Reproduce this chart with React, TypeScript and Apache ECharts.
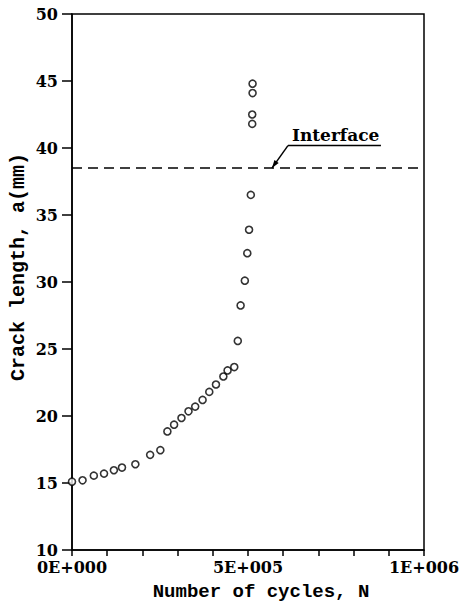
import React, { useEffect, useRef } from "react";
import * as echarts from "echarts";

// Fatigue crack growth: crack length versus number of load cycles
const cycles = [
  0, 30000, 62000, 91000, 119000, 142000, 180000, 222000, 251000, 271000,
  290000, 311000, 331000, 350000, 371000, 390000, 409000, 430000, 442000, 461000,
  471000, 479000, 491000, 498000, 503000, 508000, 512000, 512000, 513000, 513000,
];
const crackLength = [
  15.1, 15.2, 15.55, 15.7, 15.95, 16.15, 16.4, 17.1, 17.45, 18.85,
  19.35, 19.85, 20.35, 20.7, 21.2, 21.8, 22.35, 22.95, 23.4, 23.65,
  25.6, 28.25, 30.1, 32.15, 33.9, 36.5, 41.8, 42.5, 44.1, 44.8,
];
const interfaceLevel = 38.5;
const interfaceArrowCycles = 568000;
const xTickLabels: Record<number, string> = {
  0: "0E+000",
  500000: "5E+005",
  1000000: "1E+006",
};
const yAxisTitle = "Crack length, a(mm)";
const xAxisTitle = "Number of cycles, N";
const interfaceText = "Interface";

const TICK_FONT = "'DejaVu Serif', serif";
const TITLE_FONT = "'Liberation Mono', monospace";

export default function App() {
  const ref = useRef<HTMLDivElement>(null);

  useEffect(() => {
    if (!ref.current) return;
    const chart = echarts.init(ref.current, null, { renderer: "svg" });
    const points = cycles.map((c, i) => [c, crackLength[i]]);

    chart.setOption({
      animation: false,
      backgroundColor: "#ffffff",
      grid: {
        left: 72,
        top: 14,
        width: 352,
        height: 536,
        show: true,
        borderColor: "#000",
        borderWidth: 1.5,
        backgroundColor: "transparent",
      },
      xAxis: {
        type: "value",
        min: 0,
        max: 1000000,
        interval: 100000,
        axisLine: { show: true, lineStyle: { color: "#000", width: 1.5 } },
        axisTick: { show: true, length: 6, lineStyle: { color: "#000", width: 1.5 } },
        splitLine: { show: false },
        axisLabel: {
          margin: 9,
          color: "#000",
          fontFamily: TICK_FONT,
          fontWeight: "bold",
          fontSize: 16,
          lineHeight: 17,
          showMinLabel: true,
          showMaxLabel: true,
          formatter: (v: number) => xTickLabels[v] ?? "",
        },
      },
      yAxis: {
        type: "value",
        min: 10,
        max: 50,
        interval: 5,
        axisLine: { show: true, lineStyle: { color: "#000", width: 1.5 } },
        axisTick: { show: true, length: 10, lineStyle: { color: "#000", width: 1.5 } },
        splitLine: { show: false },
        axisLabel: {
          margin: 14,
          color: "#000",
          fontFamily: TICK_FONT,
          fontWeight: "bold",
          fontSize: 16,
          lineHeight: 16,
        },
      },
      series: [
        {
          type: "scatter",
          data: points,
          symbol: "circle",
          symbolSize: 7,
          itemStyle: { color: "#fff", borderColor: "#000", borderWidth: 1.6 },
          markLine: {
            silent: true,
            symbol: "none",
            label: { show: false },
            lineStyle: { color: "#000", width: 1.5, type: [10, 6] },
            data: [{ yAxis: interfaceLevel }],
          },
        },
      ],
    });

    // Interface annotation: leader with arrowhead pointing at the dashed line
    const tip = chart.convertToPixel({ gridIndex: 0 }, [interfaceArrowCycles, interfaceLevel]) as number[];
    const elbow = [tip[0] + 16, tip[1] - 22.5];
    const dx = elbow[0] - tip[0];
    const dy = elbow[1] - tip[1];
    const len = Math.hypot(dx, dy);
    const ux = dx / len;
    const uy = dy / len;
    const base = [tip[0] + ux * 8, tip[1] + uy * 8];
    const px = -uy * 2.6;
    const py = ux * 2.6;

    chart.setOption({
      graphic: [
        {
          type: "line",
          shape: { x1: tip[0], y1: tip[1], x2: elbow[0], y2: elbow[1] },
          style: { stroke: "#000", lineWidth: 1.5 },
        },
        {
          type: "polygon",
          shape: {
            points: [
              [tip[0], tip[1]],
              [base[0] + px, base[1] + py],
              [base[0] - px, base[1] - py],
            ],
          },
          style: { fill: "#000" },
        },
        {
          type: "line",
          shape: { x1: elbow[0], y1: elbow[1], x2: elbow[0] + 93, y2: elbow[1] },
          style: { stroke: "#000", lineWidth: 1.5 },
        },
        {
          type: "text",
          x: elbow[0] + 4,
          y: elbow[1] - 2,
          style: {
            text: interfaceText,
            fill: "#000",
            font: `bold 17px ${TICK_FONT}`,
            textAlign: "left",
            textVerticalAlign: "bottom",
          },
        },
        {
          type: "text",
          x: 18,
          y: 267,
          rotation: Math.PI / 2,
          style: {
            text: yAxisTitle,
            fill: "#000",
            font: `bold 20px ${TITLE_FONT}`,
            textAlign: "center",
            textVerticalAlign: "middle",
          },
        },
        {
          type: "text",
          x: 261,
          y: 592,
          style: {
            text: xAxisTitle,
            fill: "#000",
            font: `bold 19px ${TITLE_FONT}`,
            textAlign: "center",
            textVerticalAlign: "middle",
          },
        },
      ],
    });

    return () => chart.dispose();
  }, []);

  return (
    <div
      ref={ref}
      style={{ position: "fixed", left: 0, top: 0, width: 466, height: 608, background: "#fff" }}
    />
  );
}
